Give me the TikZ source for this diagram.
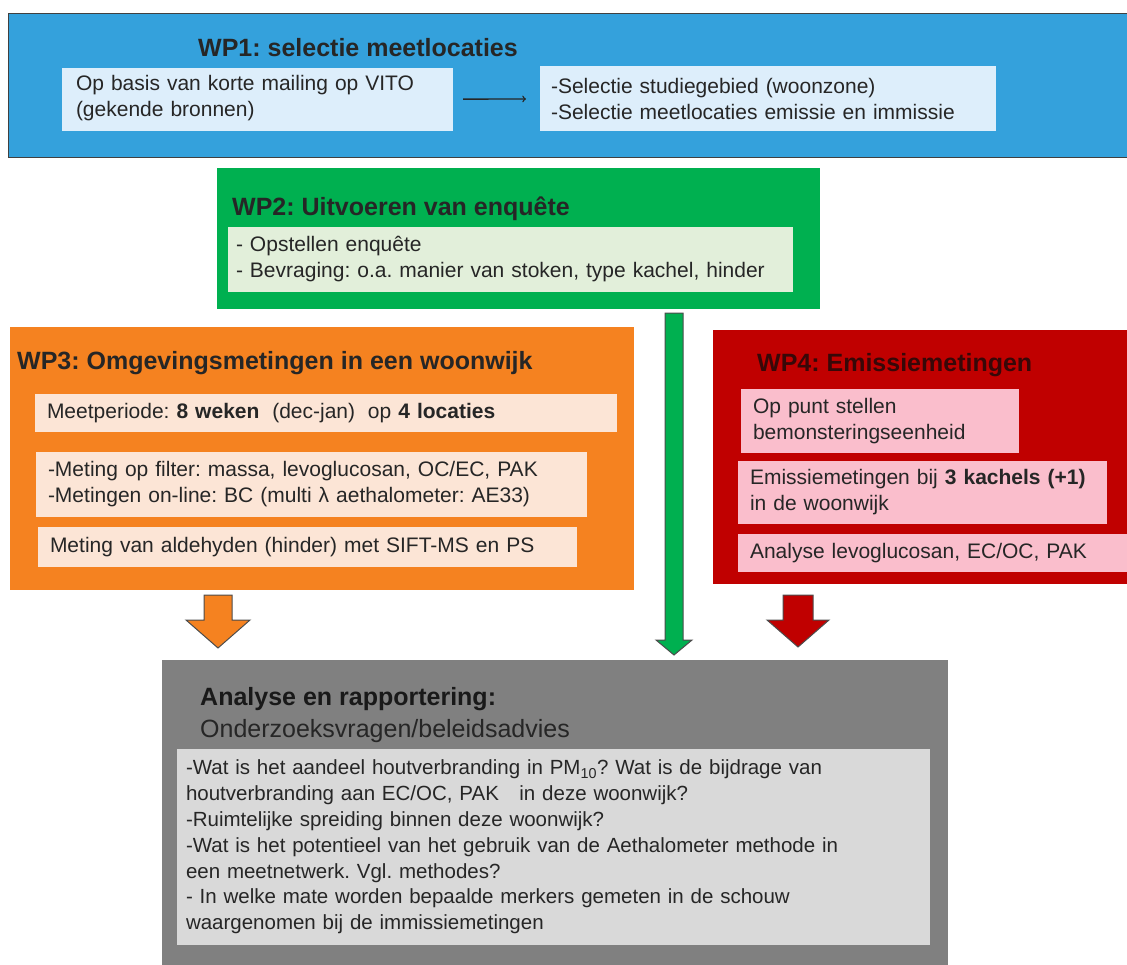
\documentclass[tikz,border=0pt]{standalone}
\usepackage{fontspec}
\setmainfont{Liberation Sans}
\usetikzlibrary{arrows, calc, positioning}
\frenchspacing

\definecolor{wpblue}{RGB}{52,161,220}
\definecolor{wpbluelight}{RGB}{221,238,251}
\definecolor{wpgreen}{RGB}{0,176,80}
\definecolor{wpgreenlight}{RGB}{226,239,218}
\definecolor{wporange}{RGB}{245,130,32}
\definecolor{wporangelight}{RGB}{252,229,214}
\definecolor{wpred}{RGB}{192,0,0}
\definecolor{wppink}{RGB}{250,190,204}
\definecolor{wpgray}{RGB}{128,128,128}
\definecolor{wpgraylight}{RGB}{217,217,217}
\definecolor{wptitlered}{RGB}{55,8,8}

\tikzset{
>=to, % thin open arrow head
x=1pt, y=-1pt, % coordinates in pixels, top left origin
wpbox/.style={anchor=north west, inner sep=0pt, outer sep=0pt}, % coloured work package
subbox/.style={anchor=north west, inner xsep=12pt, inner ysep=3pt, outer sep=0pt, align=left,
  text=black!85, font=\fontsize{21}{26}\selectfont},
wptitle/.style={anchor=base west, inner sep=0pt, text=black!85, font=\bfseries\fontsize{25}{28}\selectfont},
blockarrow/.style={draw=black!70, line width=1pt, line join=miter},
}

% fat arrow pointing down: colour, top, tip, shaft half width, head half width, head length
\newcommand{\blockdown}[6]{%
  \draw[blockarrow, fill=#1] let \p1=(#2), \p2=(#3) in
    (\x1-#4,\y1) -- (\x1+#4,\y1) -- (\x1+#4,\y2+#6) -- (\x1+#5,\y2+#6) -- (\x2,\y2)
    -- (\x1-#5,\y2+#6) -- (\x1-#4,\y2+#6) -- cycle;}

\begin{document}
\begin{tikzpicture}
  \useasboundingbox (0,0) rectangle (1127,964);

  % WP1 ---------------------------------------------
  \node[wpbox, fill=wpblue, draw=black!75, line width=0.8pt, minimum width=1125pt, minimum height=144pt] (wp1) at (8,13) {};
  \node[wptitle] (wp1t) at (198,56) {WP1: selectie meetlocaties};
  \node[subbox, fill=wpbluelight, inner xsep=14pt, text width=363pt, minimum height=63pt] (mail) at (62,68)
    {Op basis van korte mailing op VITO\\(gekende bronnen)\strut};
  \node[subbox, fill=wpbluelight, inner xsep=11pt, text width=434pt, minimum height=65pt] (sel) at (540,66)
    {-Selectie studiegebied (woonzone)\\-Selectie meetlocaties emissie en immissie};
  \draw[->, black!85, line width=1.4pt, shorten <=10pt, shorten >=14pt] (mail) -- (sel);

  % WP2 ---------------------------------------------
  \node[wpbox, fill=wpgreen, minimum width=603pt, minimum height=141pt] (wp2) at (217,168) {};
  \node[wptitle] (wp2t) at (232,215) {WP2: Uitvoeren van enquête};
  \node[subbox, fill=wpgreenlight, inner xsep=8pt, text width=549pt, minimum height=65pt] (enq) at (228,227)
    {- Opstellen enquête\\- Bevraging: o.a. manier van stoken, type kachel, hinder};

  % WP3 ---------------------------------------------
  \node[wpbox, fill=wporange, minimum width=624pt, minimum height=263pt] (wp3) at (10,327) {};
  \node[wptitle] (wp3t) at (17,369) {WP3: Omgevingsmetingen in een woonwijk};
  \node[subbox, fill=wporangelight, text width=558pt, minimum height=38pt] (period) at (35,394)
    {Meetperiode: \textbf{8 weken}\; (dec-jan)\; op \textbf{4 locaties}};
  \node[subbox, fill=wporangelight, text width=527pt, minimum height=65pt] (filter) at (36,452)
    {-Meting op filter: massa, levoglucosan, OC/EC, PAK\\-Metingen on-line: BC (multi λ aethalometer: AE33)};
  \node[subbox, fill=wporangelight, text width=515pt, minimum height=40pt] (ald) at (38,527)
    {Meting van aldehyden (hinder) met SIFT-MS en PS};

  % WP4 ---------------------------------------------
  \node[wpbox, fill=wpred, minimum width=420pt, minimum height=254pt] (wp4) at (713,330) {};
  \node[wptitle, text=wptitlered] (wp4t) at (757,371) {WP4: Emissiemetingen};
  \node[subbox, fill=wppink, text width=254pt, minimum height=64pt] (punt) at (741,389)
    {Op punt stellen\\bemonsteringseenheid};
  \node[subbox, fill=wppink, text width=345pt, minimum height=63pt] (kach) at (738,461)
    {Emissiemetingen bij \textbf{3 kachels (+1)}\\in de woonwijk};
  \node[subbox, fill=wppink, text width=370pt, minimum height=38pt] (levo) at (738,534)
    {Analyse levoglucosan, EC/OC, PAK};

  % Analyse ----------------------------------------
  \node[wpbox, fill=wpgray, minimum width=786pt, minimum height=310pt] (ana) at (162,660) {};
  \node[wptitle, text=black!90] (anat) at (200,705) {Analyse en rapportering:};
  \node[anchor=base west, inner sep=0pt, text=black!85, font=\fontsize{25}{28}\selectfont] (anas) at (200,737)
    {Onderzoeksvragen/beleidsadvies};
  \node[subbox, fill=wpgraylight, inner xsep=9pt, text width=735pt, minimum height=196pt,
    font=\fontsize{20.5}{25.8}\selectfont] (vragen) at (177,749)
    {-Wat is het aandeel houtverbranding in PM\textsubscript{10}? Wat is de bijdrage van\\
     houtverbranding aan EC/OC, PAK\ \ \ in deze woonwijk?\\
     -Ruimtelijke spreiding binnen deze woonwijk?\\
     -Wat is het potentieel van het gebruik van de Aethalometer methode in\\
     een meetnetwerk. Vgl. methodes?\\
     - In welke mate worden bepaalde merkers gemeten in de schouw\\
     waargenomen bij de immissiemetingen};

  % Arrows towards the analysis -----------------------
  \coordinate (gtop) at (674,313);
  \coordinate (otop) at (218,595);
  \coordinate (rtop) at (798,595);
  \coordinate (gtip) at ($(gtop |- ana.north)+(0,-5)$);
  \coordinate (otip) at ($(otop |- ana.north)+(0,-12)$);
  \coordinate (rtip) at ($(rtop |- ana.north)+(0,-13)$);
  \blockdown{wpgreen}{gtop}{gtip}{9pt}{18pt}{15pt}
  \blockdown{wporange}{otop}{otip}{14pt}{32pt}{28pt}
  \blockdown{wpred}{rtop}{rtip}{15pt}{31pt}{27pt}
\end{tikzpicture}
\end{document}
